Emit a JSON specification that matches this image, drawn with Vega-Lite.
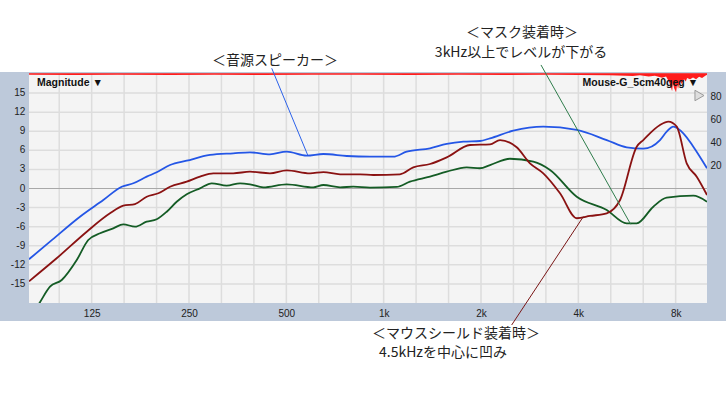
{
  "$schema": "https://vega.github.io/schema/vega-lite/v6.json",
  "width": 678,
  "height": 229,
  "autosize": {"type": "none"},
  "padding": {"left": 29, "top": 74, "right": 19, "bottom": 91},
  "background": "#ffffff",
  "config": {
    "view": {"stroke": null},
    "axis": {"grid": false, "ticks": false, "domain": false, "labelFont": "Liberation Sans", "labelFontSize": 10, "labelColor": "#222222", "title": null, "labelOverlap": false}
  },
  "datasets": {
    "panel": [{"k": 1}],
    "xgrid": [{"f": 99.21}, {"f": 125}, {"f": 157.49}, {"f": 198.43}, {"f": 250}, {"f": 314.98}, {"f": 396.85}, {"f": 500}, {"f": 629.96}, {"f": 793.7}, {"f": 1000}, {"f": 1259.9}, {"f": 1587.4}, {"f": 2000}, {"f": 2519.8}, {"f": 3174.8}, {"f": 4000}, {"f": 5039.7}, {"f": 6349.6}, {"f": 8000}],
    "ygrid": [{"db": -15}, {"db": -12}, {"db": -9}, {"db": -6}, {"db": -3}, {"db": 0}, {"db": 3}, {"db": 6}, {"db": 9}, {"db": 12}, {"db": 15}],
    "coh": [
      {"f": 80, "r": 99.4}, {"f": 110, "r": 99.2}, {"f": 150, "r": 99.4}, {"f": 220, "r": 99.1}, {"f": 300, "r": 99.4}, {"f": 420, "r": 99.2}, {"f": 600, "r": 99.3}, {"f": 850, "r": 99.4}, {"f": 1200, "r": 99.2}, {"f": 1700, "r": 99.4}, {"f": 2400, "r": 99.2}, {"f": 3200, "r": 99.4}, {"f": 4000, "r": 99.2}, {"f": 5000, "r": 99.0}, {"f": 5900, "r": 98.3}, {"f": 6200, "r": 98.8}, {"f": 6600, "r": 97.8}, {"f": 6900, "r": 98.4}, {"f": 7260, "r": 96.8}, {"f": 7470, "r": 97.8}, {"f": 7600, "r": 94}, {"f": 7690, "r": 91}, {"f": 7800, "r": 85}, {"f": 7850, "r": 93}, {"f": 7905, "r": 88}, {"f": 8023, "r": 84}, {"f": 8080, "r": 91}, {"f": 8135, "r": 87}, {"f": 8250, "r": 94.5}, {"f": 8311, "r": 91}, {"f": 8491, "r": 95.5}, {"f": 8600, "r": 93.5}, {"f": 8677, "r": 96.5}, {"f": 8863, "r": 95.5}, {"f": 9053, "r": 97}, {"f": 9250, "r": 95.5}, {"f": 9450, "r": 97.5}, {"f": 9656, "r": 96.5}, {"f": 9933, "r": 98.8}, {"f": 10000, "r": 99.2}
    ],
    "curves": [
      {"series": "speaker", "f": 80, "db": -11.13}, {"series": "speaker", "f": 92.9, "db": -8.36}, {"series": "speaker", "f": 115, "db": -4.43}, {"series": "speaker", "f": 135.8, "db": -1.81}, {"series": "speaker", "f": 154.8, "db": 0.28}, {"series": "speaker", "f": 168.2, "db": 0.82}, {"series": "speaker", "f": 185, "db": 1.86}, {"series": "speaker", "f": 198.6, "db": 2.55}, {"series": "speaker", "f": 218.4, "db": 3.69}, {"series": "speaker", "f": 246, "db": 4.37}, {"series": "speaker", "f": 290.4, "db": 5.27}, {"series": "speaker", "f": 342.7, "db": 5.53}, {"series": "speaker", "f": 386, "db": 5.69}, {"series": "speaker", "f": 445, "db": 5.38}, {"series": "speaker", "f": 501, "db": 5.79}, {"series": "speaker", "f": 578, "db": 5.16}, {"series": "speaker", "f": 651, "db": 5.42}, {"series": "speaker", "f": 769, "db": 5.11}, {"series": "speaker", "f": 907, "db": 5.0}, {"series": "speaker", "f": 1071, "db": 5.0}, {"series": "speaker", "f": 1178, "db": 5.79}, {"series": "speaker", "f": 1391, "db": 6.32}, {"series": "speaker", "f": 1567, "db": 7.0}, {"series": "speaker", "f": 1763, "db": 7.36}, {"series": "speaker", "f": 1986, "db": 7.47}, {"series": "speaker", "f": 2133, "db": 7.89}, {"series": "speaker", "f": 2518, "db": 9.09}, {"series": "speaker", "f": 3117, "db": 9.72}, {"series": "speaker", "f": 3955, "db": 9.2}, {"series": "speaker", "f": 4896, "db": 7.62}, {"series": "speaker", "f": 5645, "db": 6.48}, {"series": "speaker", "f": 6354, "db": 6.26}, {"series": "speaker", "f": 7156, "db": 7.62}, {"series": "speaker", "f": 7505, "db": 8.93}, {"series": "speaker", "f": 7868, "db": 9.72}, {"series": "speaker", "f": 8448, "db": 8.68}, {"series": "speaker", "f": 9072, "db": 6.57}, {"series": "speaker", "f": 10000, "db": 3.18},
      {"series": "mask", "f": 80, "db": -20.5}, {"series": "mask", "f": 86.1, "db": -18.05}, {"series": "mask", "f": 92.9, "db": -15.44}, {"series": "mask", "f": 101, "db": -14.38}, {"series": "mask", "f": 112.4, "db": -11.24}, {"series": "mask", "f": 122, "db": -8.1}, {"series": "mask", "f": 132.7, "db": -7.04}, {"series": "mask", "f": 145.8, "db": -6.26}, {"series": "mask", "f": 156.6, "db": -5.63}, {"series": "mask", "f": 170.2, "db": -6.0}, {"series": "mask", "f": 185, "db": -5.22}, {"series": "mask", "f": 198.6, "db": -4.84}, {"series": "mask", "f": 213.3, "db": -3.65}, {"series": "mask", "f": 229, "db": -2.08}, {"series": "mask", "f": 246, "db": -0.91}, {"series": "mask", "f": 270.4, "db": 0.03}, {"series": "mask", "f": 293.9, "db": 0.82}, {"series": "mask", "f": 327, "db": 0.44}, {"series": "mask", "f": 359.5, "db": 0.82}, {"series": "mask", "f": 386, "db": 0.66}, {"series": "mask", "f": 424.4, "db": 0.19}, {"series": "mask", "f": 501, "db": 0.66}, {"series": "mask", "f": 606, "db": 0.19}, {"series": "mask", "f": 651, "db": 0.55}, {"series": "mask", "f": 733, "db": 0.19}, {"series": "mask", "f": 805.6, "db": 0.28}, {"series": "mask", "f": 907, "db": 0.13}, {"series": "mask", "f": 1097, "db": 0.24}, {"series": "mask", "f": 1206, "db": 1.07}, {"series": "mask", "f": 1391, "db": 1.86}, {"series": "mask", "f": 1567, "db": 2.64}, {"series": "mask", "f": 1806, "db": 3.33}, {"series": "mask", "f": 1986, "db": 3.18}, {"series": "mask", "f": 2133, "db": 3.69}, {"series": "mask", "f": 2459, "db": 4.68}, {"series": "mask", "f": 2903, "db": 4.21}, {"series": "mask", "f": 3270, "db": 2.91}, {"series": "mask", "f": 3955, "db": -1.29}, {"series": "mask", "f": 4896, "db": -3.38}, {"series": "mask", "f": 5645, "db": -5.47}, {"series": "mask", "f": 6062, "db": -5.47}, {"series": "mask", "f": 6823, "db": -2.86}, {"series": "mask", "f": 7505, "db": -1.45}, {"series": "mask", "f": 9072, "db": -1.13}, {"series": "mask", "f": 10000, "db": -2.08},
      {"series": "shield", "f": 80, "db": -14.59}, {"series": "shield", "f": 97.4, "db": -10.97}, {"series": "shield", "f": 120.7, "db": -6.79}, {"series": "shield", "f": 142.4, "db": -3.9}, {"series": "shield", "f": 156.6, "db": -2.7}, {"series": "shield", "f": 170.2, "db": -2.44}, {"series": "shield", "f": 185, "db": -1.29}, {"series": "shield", "f": 201, "db": -0.75}, {"series": "shield", "f": 218.4, "db": 0.28}, {"series": "shield", "f": 246, "db": 1.07}, {"series": "shield", "f": 270.4, "db": 1.86}, {"series": "shield", "f": 297.3, "db": 2.39}, {"series": "shield", "f": 342.7, "db": 2.39}, {"series": "shield", "f": 386, "db": 2.64}, {"series": "shield", "f": 445, "db": 2.39}, {"series": "shield", "f": 501, "db": 2.86}, {"series": "shield", "f": 592, "db": 2.39}, {"series": "shield", "f": 651, "db": 2.59}, {"series": "shield", "f": 733, "db": 2.23}, {"series": "shield", "f": 845, "db": 2.23}, {"series": "shield", "f": 929, "db": 2.12}, {"series": "shield", "f": 1123, "db": 2.23}, {"series": "shield", "f": 1235, "db": 3.33}, {"series": "shield", "f": 1391, "db": 3.85}, {"series": "shield", "f": 1567, "db": 4.9}, {"series": "shield", "f": 1850, "db": 6.84}, {"series": "shield", "f": 2133, "db": 6.95}, {"series": "shield", "f": 2290, "db": 7.62}, {"series": "shield", "f": 2579, "db": 6.48}, {"series": "shield", "f": 2835, "db": 3.96}, {"series": "shield", "f": 3117, "db": 2.39}, {"series": "shield", "f": 3511, "db": -0.75}, {"series": "shield", "f": 3955, "db": -4.68}, {"series": "shield", "f": 4348, "db": -4.32}, {"series": "shield", "f": 4896, "db": -3.9}, {"series": "shield", "f": 5383, "db": -1.81}, {"series": "shield", "f": 6062, "db": 6.57}, {"series": "shield", "f": 6354, "db": 7.62}, {"series": "shield", "f": 7156, "db": 9.98}, {"series": "shield", "f": 7593, "db": 10.5}, {"series": "shield", "f": 8061, "db": 9.72}, {"series": "shield", "f": 8654, "db": 3.96}, {"series": "shield", "f": 9295, "db": 1.86}, {"series": "shield", "f": 10000, "db": -1.02}
    ],
    "leaders": [
      {"series": "speaker", "f": 450.6, "db": 18.9}, {"series": "speaker", "f": 582, "db": 5.27},
      {"series": "mask", "f": 3066, "db": 19.42}, {"series": "mask", "f": 5808, "db": -5.63},
      {"series": "shield", "f": 2488, "db": -21.46}, {"series": "shield", "f": 4144, "db": -4.43}
    ],
    "notes": [
      {"text": "＜音源スピーカー＞", "f": 461, "db": 20.09},
      {"text": "＜マスク装着時＞", "f": 2678, "db": 24.45},
      {"text": "3kHz以上でレベルが下がる", "f": 2660, "db": 21.3},
      {"text": "＜マウスシールド装着時＞", "f": 1674, "db": -22.87},
      {"text": "4.5kHzを中心に凹み", "f": 1526, "db": -25.86}
    ],
    "tagLeft": [{"text": "Magnitude ▼", "f": 84.7, "db": 16.59}],
    "tagRight": [{"text": "Mouse-G_5cm40geg ▼", "f": 9381, "db": 16.59}],
    "icon": [{"f": 9480, "db": 14.62}]
  },
  "layer": [
    {
      "layer": [
        {
          "data": {"name": "panel"},
          "mark": {"type": "rect", "color": "#bdc9da"},
          "encoding": {
            "x": {"datum": 65, "type": "quantitative", "scale": {"type": "log", "domain": [80, 10000], "nice": false}, "axis": {"orient": "bottom", "zindex": 2, "values": [125, 250, 500, 1000, 2000, 4000, 8000], "labelExpr": "datum.value >= 1000 ? (datum.value / 1000) + 'k' : datum.value", "labelPadding": 5, "labelFlush": false, "labelOverlap": false}},
            "x2": {"datum": 11500},
            "y": {"datum": -20.83, "type": "quantitative", "scale": {"domain": [-18, 18], "nice": false, "zero": false}, "axis": null},
            "y2": {"datum": 18.31}
          }
        },
        {
          "data": {"name": "panel"},
          "mark": {"type": "rect", "color": "#f4f4f4"},
          "encoding": {
            "x": {"datum": 80, "type": "quantitative"},
            "x2": {"datum": 10000},
            "y": {"datum": -18, "type": "quantitative"},
            "y2": {"datum": 18}
          }
        },
        {
          "data": {"name": "xgrid"},
          "mark": {"type": "rule", "color": "#dddddd", "strokeWidth": 1.5},
          "encoding": {
            "x": {"field": "f", "type": "quantitative"}
          }
        },
        {
          "data": {"name": "ygrid"},
          "transform": [{"filter": "datum.db != 0"}],
          "mark": {"type": "rule", "color": "#dddddd", "strokeWidth": 1.5},
          "encoding": {
            "y": {"field": "db", "type": "quantitative"}
          }
        },
        {
          "data": {"name": "ygrid"},
          "transform": [{"filter": "datum.db == 0"}],
          "mark": {"type": "rule", "color": "#a8a8a8", "strokeWidth": 1},
          "encoding": {
            "y": {"field": "db", "type": "quantitative"}
          }
        },
        {
          "data": {"name": "ygrid"},
          "mark": {"type": "text", "align": "right", "baseline": "middle", "font": "Liberation Sans", "fontSize": 10, "color": "#222222"},
          "encoding": {
            "x": {"datum": 77.9, "type": "quantitative"},
            "y": {"field": "db", "type": "quantitative"},
            "text": {"field": "db", "type": "nominal"}
          }
        }
      ]
    },
    {
      "data": {"name": "coh"},
      "mark": {"type": "area", "color": "#ff1c1c", "opacity": 1},
      "encoding": {
        "x": {"field": "f", "type": "quantitative"},
        "y": {"field": "r", "type": "quantitative", "scale": {"domain": [-100, 100], "nice": false, "zero": false}, "axis": {"orient": "right", "zindex": 2, "values": [20, 40, 60, 80], "labelPadding": 3, "labelOverlap": false}},
        "y2": {"datum": 100.6}
      }
    },
    {
      "layer": [
        {
          "data": {"name": "curves"},
          "mark": {"type": "line", "interpolate": "monotone", "strokeWidth": 1.8, "clip": true},
          "encoding": {
            "x": {"field": "f", "type": "quantitative"},
            "y": {"field": "db", "type": "quantitative", "scale": {"domain": [-18, 18], "nice": false, "zero": false}, "axis": null},
            "color": {"field": "series", "type": "nominal", "scale": {"domain": ["speaker", "mask", "shield"], "range": ["#2456e6", "#145c25", "#8a1212"]}, "legend": null}
          }
        },
        {
          "data": {"name": "leaders"},
          "mark": {"type": "line", "strokeWidth": 1},
          "encoding": {
            "x": {"field": "f", "type": "quantitative"},
            "y": {"field": "db", "type": "quantitative", "axis": null},
            "stroke": {"field": "series", "type": "nominal", "scale": {"domain": ["speaker", "mask", "shield"], "range": ["#2c62ea", "#2f7d4c", "#7a1616"]}, "legend": null}
          }
        },
        {
          "data": {"name": "notes"},
          "mark": {"type": "text", "font": "Noto Sans CJK JP", "fontSize": 14, "color": "#222222", "align": "center", "baseline": "middle"},
          "encoding": {
            "x": {"field": "f", "type": "quantitative"},
            "y": {"field": "db", "type": "quantitative", "axis": null},
            "text": {"field": "text"}
          }
        },
        {
          "data": {"name": "tagLeft"},
          "mark": {"type": "text", "font": "Liberation Sans", "fontWeight": "bold", "fontSize": 10.5, "color": "#111111", "align": "left", "baseline": "middle"},
          "encoding": {
            "x": {"field": "f", "type": "quantitative"},
            "y": {"field": "db", "type": "quantitative", "axis": null},
            "text": {"field": "text"}
          }
        },
        {
          "data": {"name": "tagRight"},
          "mark": {"type": "text", "font": "Liberation Sans", "fontWeight": "bold", "fontSize": 10.5, "color": "#111111", "align": "right", "baseline": "middle"},
          "encoding": {
            "x": {"field": "f", "type": "quantitative"},
            "y": {"field": "db", "type": "quantitative", "axis": null},
            "text": {"field": "text"}
          }
        },
        {
          "data": {"name": "icon"},
          "mark": {"type": "point", "shape": "triangle-right", "size": 110, "filled": true, "fill": "#dedede", "stroke": "#9a9a9a", "strokeWidth": 1, "opacity": 1},
          "encoding": {
            "x": {"field": "f", "type": "quantitative"},
            "y": {"field": "db", "type": "quantitative", "axis": null}
          }
        }
      ]
    }
  ],
  "resolve": {"scale": {"y": "independent"}, "axis": {"y": "independent"}}
}
